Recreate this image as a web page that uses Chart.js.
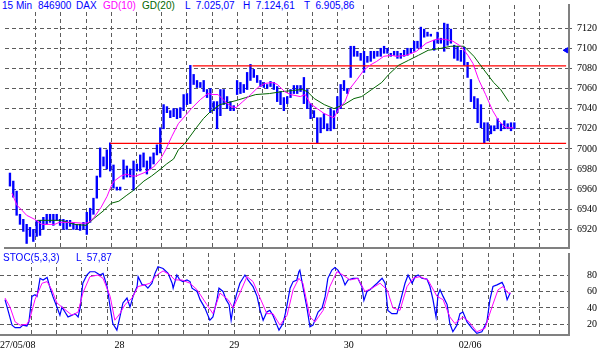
<!DOCTYPE html>
<html>
<head>
<meta charset="utf-8">
<script src="https://cdn.jsdelivr.net/npm/chart.js@4.4.0/dist/chart.umd.min.js"></script>
<style>
  body { margin: 0; background: #fff; }
  #wrap { position: relative; width: 600px; height: 353px; overflow: hidden; font-family: "Liberation Sans", Arial, sans-serif; }
  canvas { position: absolute; left: 0; }
  .hdr { position: absolute; background: #fff; }
  .t { position: absolute; top: 0; font-size: 10px; line-height: 12px; color: #0000ff; white-space: pre; }
</style>
</head>
<body>
<div id="wrap">
  <canvas id="priceChart" width="600" height="253" style="top:0"></canvas>
  <canvas id="stocChart" width="600" height="100" style="top:253px"></canvas>

  <div class="hdr" style="left:0;top:0;width:356px;height:12px">
    <span class="t" style="left:2px">15 Min</span>
    <span class="t" style="left:38px">846900</span>
    <span class="t" style="left:76px">DAX</span>
    <span class="t" style="left:103px;color:#ff00ff">GD(10)</span>
    <span class="t" style="left:142px;color:#006600">GD(20)</span>
    <span class="t" style="left:185px">L  7.025,07</span>
    <span class="t" style="left:243px">H  7.124,61</span>
    <span class="t" style="left:304px">T  6.905,86</span>
  </div>
  <div class="hdr" style="left:0;top:252px;width:110px;height:11px">
    <span class="t" style="left:3px">STOC(5,3,3)</span>
    <span class="t" style="left:76px">L  57,87</span>
  </div>
</div>

<script>
// Tage (erster Balken je Handelstag)
const dayLabels = ['27/05/08', '28', '29', '30', '02/06'];
const dayStart = [0, 34, 68, 102, 138];

// 15-Min Balken: Hoch / Tief
const barHigh = [
  6976,6968,6958,6935,6930,6925,6922,6920,6929,6929, 6932,6935,6935,6935,6935,6930,6930,6929,6929,6927,
  6925,6925,6927,6937,6941,6951,6973,7001,6992,6999, 7006,6984,6962,6962,
  6989,6983,6980,6988,6985,6994,6996,6988,6992,6996, 7004,7021,7044,7042,7038,7040,7040,7041,7054,7055,
  7083,7074,7068,7066,7068,7059,7060,7047,7047,7059, 7059,7052,7047,7043,
  7068,7066,7064,7076,7084,7079,7073,7068,7066,7064, 7067,7066,7062,7057,7051,7052,7059,7063,7063,7063,
  7071,7059,7045,7038,7031,7031,7035,7025,7040,7038, 7052,7064,7068,7060,
  7102,7102,7097,7095,7097,7092,7097,7097,7097,7100, 7102,7100,7095,7097,7097,7095,7098,7100,7100,7107,
  7107,7121,7119,7116,7114,7108,7116,7110,7125,7124, 7119,7103,7102,7098,7101,7086,
  7069,7052,7050,7044,7026,7026,7023,7023,7030,7025,7028,7025,7026,7026
];
const barLow = [
  6963,6952,6934,6925,6918,6906,6913,6908,6913,6914, 6920,6925,6927,6924,6929,6924,6920,6920,6923,6920,
  6920,6919,6920,6915,6927,6935,6951,6972,6983,6980, 6978,6961,6959,6959,
  6970,6972,6972,6959,6978,6978,6982,6975,6980,6985, 6994,6996,7020,7036,7031,7032,7030,7031,7038,7044,
  7045,7064,7061,7061,7057,7051,7036,7038,7020,7033, 7044,7040,7038,7038,
  7054,7055,7056,7059,7068,7071,7066,7062,7061,7060, 7062,7059,7047,7044,7038,7045,7051,7055,7055,7057,
  7045,7040,7030,7031,7006,7016,7020,7018,7018,7020, 7036,7040,7058,7055,
  7071,7092,7092,7088,7076,7086,7087,7090,7092,7092, 7095,7095,7092,7093,7090,7090,7092,7093,7095,7097,
  7100,7100,7111,7112,7112,7098,7105,7105,7097,7103, 7105,7090,7088,7087,7083,7071,
  7047,7040,7026,7021,7006,7008,7015,7018,7020,7018,7020,7020,7018,7020
];

const gd10Pos = [0.6,2.1,3.6,5,7.4,9.5,13.4,14.8,18.4,22.3,23.7,25.2,27.3,29.1,30.3,31.2,33.2,35,36.5,37.7,
  40.7,43,45.1,46.6,48.4,50.4,52.5,54.3,57,59.3,60.8,62.3,64.4,66.2,67.7,69.7,72.1,74.2,76.3,78.6,
  80.1,82.2,84,86.9,88.4,89.9,92,94.1,95.5,97,98.5,100.3,101.8,103.9,105.9,107.7,109.8,111.9,114.2,115.7,
  118.7,121.7,124.6,127.6,130,132.6,135,137.1,138.6,140.3,142.4,144.5,146.3,148.4,150.7];
const gd10Val = [6956,6944,6939,6934,6930,6925,6925,6927,6927,6926,6927,6932,6942,6953,6963,6968,6973,6975,6973,6973,
  6977,6982,6990,6999,7012,7025,7033,7040,7049,7055,7054,7054,7047,7042,7041,7047,7054,7061,7065,7066,
  7064,7057,7054,7052,7054,7045,7040,7035,7033,7031,7040,7047,7060,7069,7078,7083,7087,7092,7093,7092,
  7093,7097,7105,7109,7109,7107,7102,7093,7085,7069,7054,7038,7028,7021,7021];

// GD(20)
const gd20Pos = [8.3,15.4,19.3,22.8,25.2,28.2,30.3,32.6,35,37.1,40.1,42.4,45.1,46.9,49,50.4,52.5,55.8,57.9,60,
  62.9,65.3,67.7,70.6,73.6,77.7,81.6,84.6,87.5,89,91.1,94.1,97,100,103,105.3,108.3,111.3,113.4,116.3,
  119.3,122.3,125.2,129.1,132,135.9,138.9,141.8,144.8,146.9,149.3];
const gd20Val = [6929,6929,6925,6924,6931,6939,6946,6948,6954,6959,6968,6973,6980,6985,6990,6999,7006,7021,7030,7037,
  7044,7046,7048,7051,7054,7055,7057,7058,7059,7057,7050,7044,7040,7044,7050,7052,7059,7066,7074,7083,
  7088,7093,7098,7100,7102,7102,7092,7079,7066,7059,7047];

// Stochastik %K (blau) und %D (magenta)
const stocKPos = [0,0.9,2.1,3,4.5,5.3,6.5,7.1,8,8.9, 9.5,10.4,11.3,12.5,13.4,14.2,15.4,16.3,16.9,17.8,
  18.7,19.9,20.8,21.7,22.3,23.1,24.3,25.2,26.7,28.2, 29.1,30.3,31.2,32,33.2,34.1,35,36.2,37.1,38,
  39.2,39.5,40.7,41.5,42.4,43.6,44.5,45.4,46.9,48.4, 49.6,49.9,51,51.9,52.8,54,54.9,55.5,57,57.9,
  59.3,60.8,61.7,62.9,63.5,64.7,65.6,66.5,67.1,67.7, 68.8,69.7,71.2,72.1,73.6,74.8,75.7,76.6,77.7,78.6,
  79.5,80.7,81.3,82.5,83.4,84.6,85.5,86.6,87.2,87.5, 88.4,89.6,90.5,91.4,92.9,94.1,95,95.8,97,97.9,
  98.8,100,100.9,101.8,103.3,104.7,105.9,106.5,107.4,108.3, 110.4,111.9,112.8,113.6,114.8,116.3,117.2,118.7,119.6,120.8,
  121.7,122.6,123.7,125.2,126.1,127,127.9,128.5,129.1,130, 131.2,132,132.9,134.1,135,135.9,137.1,138.6,140,141.5,
  143,143.9,144.8,146,147.5,148.1,149,149.9];
const stocKVal = [50,37,19,16,16,19,18,23,54,56, 54,76,74,77,64,54,41,31,41,35,
  29,31,33,29,40,70,80,84,84,80, 82,66,41,21,13,29,46,52,41,54,
  66,78,68,68,64,70,82,90,88,82, 70,64,80,74,72,74,72,64,60,50,
  40,25,29,50,64,60,50,44,25,41, 58,70,80,74,66,54,37,25,35,37,
  31,19,13,21,37,64,72,74,84,86, 66,40,17,19,35,40,54,76,86,89,
  86,78,68,74,76,76,66,49,60,62, 70,76,70,37,33,33,46,70,80,70,
  78,80,76,75,66,50,29,56,62,54, 44,21,11,19,33,35,23,15,9,11,
  23,50,66,68,71,66,50,58];
const stocDPos = [0,1.5,3,4.5,6.5,7.4,8.9,11,12.5,13.9, 15.4,17.2,19.9,21.7,23.1,25.2,27.6,29.1,31.2,32.6,
  34.1,35.6,37.7,39.5,41.5,43,45.1,46.9,49,50.4, 52.5,54.9,57,59.9,61.7,63.8,66.2,67.7,69.7,71.8,
  73.6,75.7,77.7,79.5,81.6,83.7,85.5,87.2,88.4,90.5, 92,94.4,96.4,98.5,100.3,102.4,104.7,106.8,108.9,111.3,
  113.4,115.1,117.2,119.3,121.1,123.1,125.5,128.2,130,132, 133.5,135.9,137.7,140,142.4,144.5,146.3,147.8,149.3,150.1];
const stocDVal = [52,41,23,19,20,27,50,70,72,62, 46,40,31,35,58,78,80,76,54,25,
  33,44,52,66,68,70,80,85,80,74, 74,70,62,44,33,58,50,40,58,78,
  72,52,33,33,19,31,62,76,70,29, 23,37,66,84,80,74,76,60,64,70,
  62,40,37,66,76,78,74,54,50,29, 21,29,23,11,15,41,62,66,58,58];

// Achsenbeschriftung
const priceTicks = [6920, 6940, 6960, 6980, 7000, 7020, 7040, 7060, 7080, 7100, 7120];
const stocTicks = [20, 40, 60, 80];

// Widerstand / Unterstuetzung (rote Linien) und Marke am Rand
const resistance = { from: 54.7, level: 7082.5 };
const support = { from: 30, level: 7005.5 };
const lineEnd = 166.5;
const markLevel = 7098;

// Darstellung
const X_MIN = -1.48, X_MAX = 167.36;
const GRID_FIRST = 7.72, GRID_STEP = 7.54;
const GRID_COLOR = '#5c5c5c';
const FRAME_COLOR = '#808080';
const DASH = [4, 3];
const AXIS_FONT = { family: 'Liberation Serif', size: 10 };

const gridX = [];
for (let v = GRID_FIRST; v < X_MAX - 3; v += GRID_STEP) gridX.push(v);

const pts = (pos, val) => pos.map((x, i) => ({ x: x, y: val[i] }));

function xAxis(h) {
    return {
        type: 'linear', min: X_MIN, max: X_MAX, offset: false,
        afterBuildTicks: s => { s.ticks = gridX.map(v => ({ value: v })); },
        afterFit: s => { s.height = h; s.paddingLeft = 0; s.paddingRight = 0; },
        ticks: { display: false },
        grid: { color: GRID_COLOR, drawTicks: false, offset: false },
        border: { display: true, color: FRAME_COLOR, width: 2, dash: DASH }
    };
}

function yAxis(min, max, tickValues, padding, drawTicks) {
    return {
        position: 'right', min: min, max: max,
        afterBuildTicks: s => { s.ticks = tickValues.map(v => ({ value: v })); },
        afterFit: s => { s.width = 31; s.paddingTop = 0; s.paddingBottom = 0; },
        ticks: { font: AXIS_FONT, color: '#000', padding: padding, callback: v => String(v) },
        grid: { color: GRID_COLOR, drawTicks: drawTicks, tickLength: 3, tickColor: GRID_COLOR },
        border: { display: true, color: FRAME_COLOR, width: 2, dash: DASH }
    };
}

const baseOptions = {
    responsive: false,
    animation: false,
    devicePixelRatio: 1,
    layout: { padding: 0 },
    plugins: { legend: { display: false }, tooltip: { enabled: false } }
};

// Kurschart
new Chart(document.getElementById('priceChart'), {
    type: 'bar',
    data: {
        datasets: [
            {
                type: 'scatter',
                data: [{ x: lineEnd, y: markLevel }],
                pointStyle: 'triangle', rotation: -90, radius: 3,
                backgroundColor: '#0000ff', borderColor: '#0000ff',
                order: 0
            },
            {
                type: 'line', data: pts(gd10Pos, gd10Val),
                borderColor: '#ff00ff', borderWidth: 1, pointRadius: 0, order: 1
            },
            {
                type: 'line', data: pts(gd20Pos, gd20Val),
                borderColor: '#006400', borderWidth: 1, pointRadius: 0, order: 2
            },
            {
                type: 'line',
                data: [{ x: resistance.from, y: resistance.level }, { x: lineEnd, y: resistance.level }],
                borderColor: '#ff0000', borderWidth: 1.2, pointRadius: 0, order: 3
            },
            {
                type: 'line',
                data: [{ x: support.from, y: support.level }, { x: lineEnd, y: support.level }],
                borderColor: '#ff0000', borderWidth: 1.2, pointRadius: 0, order: 3
            },
            {
                type: 'bar',
                data: barHigh.map((h, i) => ({ x: i, y: [barLow[i], h] })),
                backgroundColor: '#0000ff',
                barThickness: 1.7,
                order: 4
            }
        ]
    },
    options: Object.assign({}, baseOptions, {
        scales: {
            x: xAxis(1),
            y: yAxis(6901.5, 7143, priceTicks, 5, true)
        }
    })
});

// Datumsbeschriftung unter dem Stochastik-Fenster
const dateLabels = {
    id: 'dateLabels',
    afterDraw(chart) {
        const { ctx, chartArea } = chart;
        const x = chart.scales.x;
        ctx.save();
        ctx.font = '10px "Liberation Serif"';
        ctx.fillStyle = '#000';
        ctx.textAlign = 'center';
        ctx.textBaseline = 'middle';
        dayStart.forEach((d, i) => {
            const w = ctx.measureText(dayLabels[i]).width;
            const px = Math.max(x.getPixelForValue(d), chartArea.left + w / 2);
            ctx.fillText(dayLabels[i], px, chartArea.bottom + 10);
        });
        ctx.restore();
    }
};

// Stochastik
new Chart(document.getElementById('stocChart'), {
    type: 'line',
    data: {
        datasets: [
            {
                data: pts(stocKPos, stocKVal),
                borderColor: '#0000ff', borderWidth: 1.2, pointRadius: 0, order: 2
            },
            {
                data: pts(stocDPos, stocDVal),
                borderColor: '#ff00ff', borderWidth: 1, pointRadius: 0, order: 1
            }
        ]
    },
    options: Object.assign({}, baseOptions, {
        scales: {
            x: xAxis(18),
            y: yAxis(7, 106.8, stocTicks, 18, false)
        }
    }),
    plugins: [dateLabels]
});
</script>
</body>
</html>
